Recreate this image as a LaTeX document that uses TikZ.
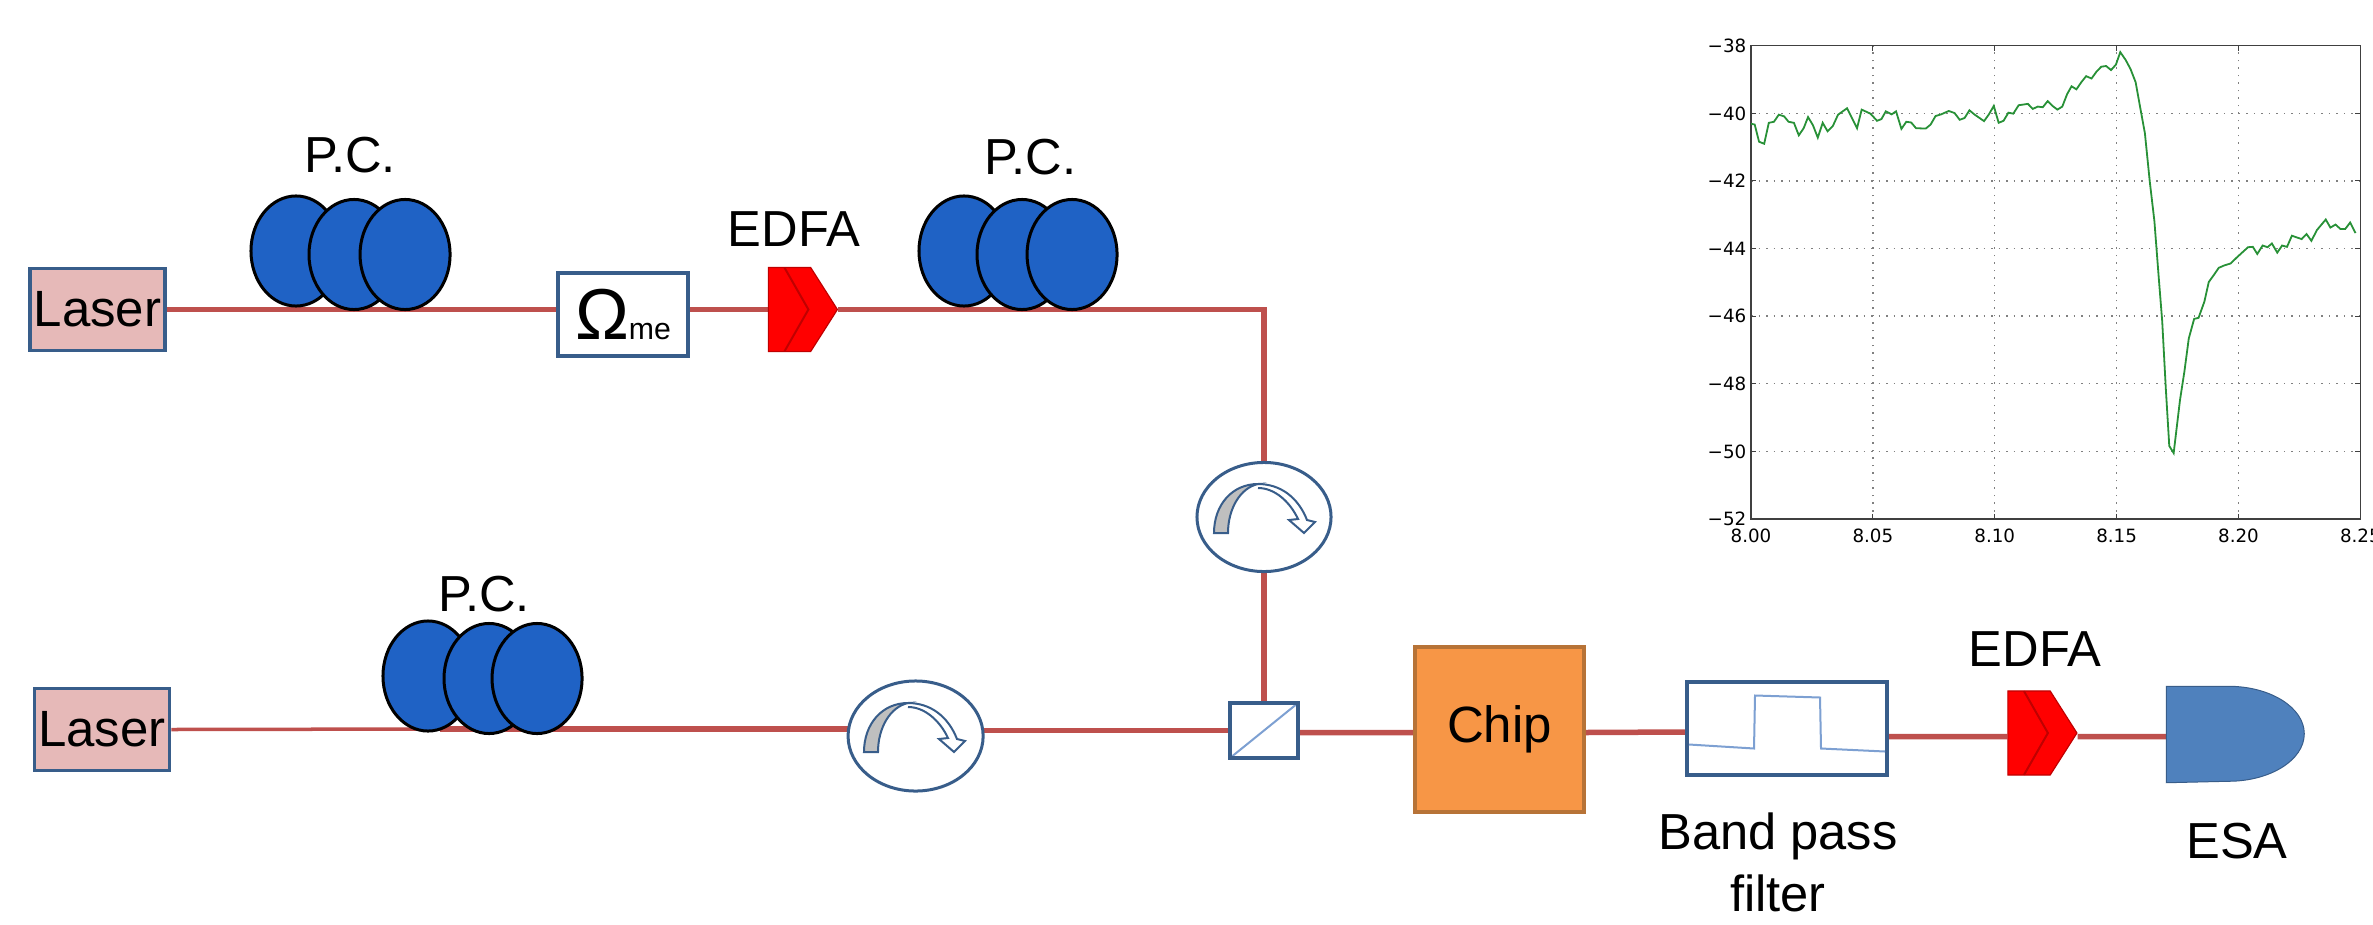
\documentclass[tikz,border=0pt]{standalone}
\usepackage{fontspec}
\usepackage{pgfplots}
\pgfplotsset{compat=1.18}
\usetikzlibrary{positioning,calc,shapes.geometric,shapes.symbols,backgrounds}
\setmainfont{Liberation Sans}
\newfontfamily\plotfont{DejaVu Sans}
\definecolor{fibercolor}{RGB}{190,80,77}
\definecolor{boxblue}{RGB}{56,93,138}
\definecolor{laserpink}{RGB}{230,185,184}
\definecolor{pcblue}{RGB}{31,98,197}
\definecolor{edfadark}{RGB}{192,0,0}
\definecolor{chiporange}{RGB}{247,150,70}
\definecolor{chipedge}{RGB}{183,115,55}
\definecolor{esablue}{RGB}{79,129,189}
\definecolor{bandblue}{RGB}{125,160,210}
\definecolor{tracegreen}{RGB}{40,145,55}
\tikzset{
    fiber/.style={draw=fibercolor,line width=0.055cm},
    thinfiber/.style={draw=fibercolor,line width=0.035cm},
    txt/.style={inner sep=0,font=\fontsize{14.4}{17.6}\selectfont},
    bluebox/.style={rectangle,draw=boxblue,line width=0.035cm,inner sep=0,fill=white},
    laser/.style={bluebox,fill=laserpink,minimum width=1.35cm,minimum height=0.82cm,font=\fontsize{14.5}{17}\selectfont},
    pc/.style={ellipse,draw=black,line width=0.03cm,fill=pcblue,minimum width=0.9cm,minimum height=1.1cm,inner sep=0},
    circulator/.style={ellipse,draw=boxblue,line width=0.03cm,fill=white,minimum width=1.34cm,minimum height=1.09cm,inner sep=0},
    edfa/.style={signal,signal to=east,signal pointer angle=115,fill=red,draw=edfadark,line width=0.012cm,inner sep=0,minimum width=0.69cm,minimum height=0.84cm,
        path picture={\draw [edfadark,line width=0.02cm] ([xshift=0.16cm]path picture bounding box.north west) -- ([xshift=0.4cm]path picture bounding box.west) -- ([xshift=0.16cm]path picture bounding box.south west);}},
    splitter/.style={bluebox,minimum width=0.68cm,minimum height=0.55cm,
        path picture={\draw [bandblue,line width=0.02cm] (path picture bounding box.south west) -- (path picture bounding box.north east);}},
    circarrow/.pic={
        \draw [boxblue,line width=0.02cm,fill=lightgray] (-44,16) .. controls (-44,-12) and (-26,-33) .. (0,-33) .. controls (-18,-29) and (-30,-8) .. (-30,16) -- cycle;
        \draw [boxblue,line width=0.02cm] (0,-33) .. controls (22,-33) and (40,-20) .. (49,3) -- (57,5) -- (46,16) -- (31,3) -- (40,2) .. controls (32,-15) and (17,-29) .. (0,-29);
    }
}
\begin{document}
\begin{tikzpicture}[x=0.01cm,y=-0.01cm]
    \useasboundingbox (0,0) rectangle (2373,924);
    % Upper arm
    \node (laserA) [laser] at (97.5,309.5) {Laser};
    \node (pcA1) [pc] at (296,251) {};
    \node (pcA2) [pc,node distance=0.58cm,right of=pcA1,yshift=-0.035cm] {};
    \node (pcA3) [pc,node distance=0.51cm,right of=pcA2] {};
    \node (pcAlabel) [txt,node distance=0.995cm,above of=pcA2,xshift=-0.04cm] {P.C.};
    \node (omega) [bluebox,minimum width=1.3cm,minimum height=0.83cm] at (623,314.5) {{\fontsize{20.5}{20}\selectfont Ω}{\fontsize{8.6}{8}\selectfont me}};
    \node (edfaA) [edfa] at (789.5,309.5) {};
    \node (edfaAlabel) [txt,node distance=0.805cm,above of=edfaA,xshift=0.045cm] {EDFA};
    \node (pcB1) [pc] at (964,251) {};
    \node (pcB2) [pc,node distance=0.58cm,right of=pcB1,yshift=-0.035cm] {};
    \node (pcB3) [pc,node distance=0.5cm,right of=pcB2] {};
    \node (pcBlabel) [txt,node distance=0.97cm,above of=pcB2,xshift=0.08cm] {P.C.};
    \node (circA) [circulator] at (1264,517) {};
    \pic at ([xshift=-0.06cm]circA.center) {circarrow};
    % Lower arm
    \node (laserB) [laser] at (102,729.5) {Laser};
    \node (pcC1) [pc] at (428,676) {};
    \node (pcC2) [pc,node distance=0.61cm,right of=pcC1,yshift=-0.025cm] {};
    \node (pcC3) [pc,node distance=0.48cm,right of=pcC2] {};
    \node (pcClabel) [txt,node distance=0.845cm,above of=pcC2,xshift=-0.05cm] {P.C.};
    \coordinate (fiberC) at (440,729);
    \node (circB) [circulator,minimum width=1.35cm,minimum height=1.1cm] at (915.6,736) {};
    \pic at ([xshift=-0.076cm]circB.center) {circarrow};
    \node (bs) [splitter] at (1264,730.5) {};
    % Output path
    \node (chip) [rectangle,draw=chipedge,line width=0.035cm,fill=chiporange,inner sep=0,minimum width=1.69cm,minimum height=1.65cm,font=\fontsize{14.5}{17}\selectfont] at (1499.5,729.5) {Chip};
    \node (filter) [bluebox,minimum width=2cm,minimum height=0.93cm] at (1787,728.5) {};
    \draw [bandblue,line width=0.02cm,shift={(filter.center)}] (-98,16) -- (-33,20) -- (-32,-33) -- (33,-31) -- (34,20) -- (98,23);
    \node (filterlabel) [txt,align=center,node distance=1.34cm,below of=filter,xshift=-0.09cm] {Band pass\\filter};
    \node (edfaB) [edfa] at (2029,733) {};
    \node (edfaBlabel) [txt,node distance=0.84cm,above of=edfaB,xshift=0.06cm] {EDFA};
    \node (esa) [minimum width=1.38cm,minimum height=0.95cm,inner sep=0] at (2236,734.5) {};
    \draw [fill=esablue,draw=boxblue,line width=0.01cm] (esa.north west) -- ++(62,0) arc[x radius=76,y radius=47.5,start angle=-90,end angle=90] -- (esa.south west) -- cycle;
    \node (esalabel) [txt,node distance=1.065cm,below of=esa,xshift=0.01cm] {ESA};
    % Fibers
    \begin{scope}[on background layer]
        \draw [fiber] (laserA.east) -- (laserA.east -| omega.west);
        \draw [fiber] (laserA.east -| omega.east) -- (edfaA.west);
        \draw [fiber] (edfaA.east) -| (circA.north);
        \draw [fiber] (circA.south) -- (bs.north);
        \draw [thinfiber] (laserB.east) -- (fiberC);
        \draw [fiber] (fiberC) -- (fiberC -| circB.center);
        \draw [fiber] (circB.center |- bs.west) -- (bs.west);
        \draw [fiber] ([yshift=-0.02cm]bs.east) -- ([yshift=-0.03cm]chip.west);
        \draw [fiber] ([yshift=-0.03cm]chip.east) -- ([yshift=-0.035cm]filter.west);
        \draw [fiber] ([yshift=-0.08cm]filter.east) -- ([yshift=-0.035cm]edfaB.west);
        \draw [fiber] ([yshift=-0.035cm]edfaB.east) -- ([yshift=-0.02cm]esa.west);
    \end{scope}
    % Trace
    \coordinate (plotorigin) at (1751,519);
    \begin{axis}[at={(plotorigin)},anchor=south west,scale only axis,width=6.09cm,height=4.73cm,
        xmin=8,xmax=8.25,ymin=-52,ymax=-38,
        xtick={8,8.05,8.1,8.15,8.2,8.25},xticklabels={8.00,8.05,8.10,8.15,8.20,8.25},
        ytick={-52,-50,-48,-46,-44,-42,-40,-38},yticklabels={−52,−50,−48,−46,−44,−42,−40,−38},
        tick label style={font=\plotfont\fontsize{5.2}{6}\selectfont,inner sep=0.02cm},
        xticklabel style={yshift=-0.07cm},yticklabel style={xshift=-0.02cm},
        tick align=inside,major tick length=0.05cm,
        axis line style={black!75,line width=0.015cm},tick style={black!75,line width=0.01cm},
        grid=major,grid style={gray,line width=0.014cm,dash pattern=on 0.015cm off 0.06cm}]
        \addplot [tracegreen,line width=0.018cm,mark=none] coordinates {
            (8.000,-40.31) (8.0015,-40.33) (8.0033,-40.84) (8.0054,-40.90) (8.0073,-40.28) (8.0094,-40.25)
            (8.0114,-40.04) (8.0136,-40.09) (8.0154,-40.25) (8.0176,-40.28) (8.0196,-40.65) (8.0216,-40.44)
            (8.0234,-40.11) (8.0254,-40.35) (8.0274,-40.72) (8.0294,-40.28) (8.0314,-40.53) (8.0336,-40.37)
            (8.0357,-40.04) (8.0394,-39.85) (8.0435,-40.44) (8.0454,-39.89) (8.0490,-40.01) (8.0517,-40.22)
            (8.0535,-40.17) (8.0553,-39.94) (8.0577,-40.03) (8.0595,-39.94) (8.0617,-40.46) (8.0637,-40.25)
            (8.0657,-40.27) (8.0677,-40.44) (8.0717,-40.45) (8.0737,-40.33) (8.0757,-40.08) (8.0780,-40.03)
            (8.0811,-39.93) (8.0835,-39.99) (8.0856,-40.19) (8.0876,-40.14) (8.0896,-39.91) (8.0916,-40.03)
            (8.0956,-40.23) (8.0976,-40.03) (8.0996,-39.78) (8.1016,-40.28) (8.1036,-40.22) (8.1056,-39.98)
            (8.1076,-40.01) (8.1098,-39.76) (8.1136,-39.72) (8.1156,-39.87) (8.1176,-39.80) (8.1197,-39.82)
            (8.1217,-39.64) (8.1237,-39.78) (8.1257,-39.89) (8.1277,-39.80) (8.1297,-39.43) (8.1315,-39.20)
            (8.1335,-39.29) (8.1355,-39.08) (8.1375,-38.90) (8.1397,-38.97) (8.1417,-38.77) (8.1437,-38.62)
            (8.1457,-38.60) (8.1477,-38.72) (8.1497,-38.56) (8.1515,-38.19) (8.1537,-38.42) (8.1557,-38.69)
            (8.1578,-39.08) (8.1596,-39.80) (8.1616,-40.59) (8.1636,-42.02) (8.1655,-43.19) (8.1673,-44.88)
            (8.1687,-46.15) (8.1702,-48.17) (8.1716,-49.84) (8.1734,-50.05) (8.1760,-48.48) (8.1778,-47.64)
            (8.1796,-46.66) (8.1818,-46.08) (8.1836,-46.05) (8.1860,-45.57) (8.1878,-44.99) (8.1899,-44.78)
            (8.1919,-44.57) (8.1941,-44.50) (8.1968,-44.44) (8.1992,-44.27) (8.2039,-43.96) (8.2059,-43.95)
            (8.2077,-44.16) (8.2099,-43.91) (8.2119,-43.96) (8.2137,-43.85) (8.2159,-44.12) (8.2179,-43.91)
            (8.2199,-43.95) (8.2219,-43.62) (8.2259,-43.72) (8.2279,-43.57) (8.2299,-43.77) (8.2322,-43.45)
            (8.2358,-43.14) (8.2377,-43.38) (8.2398,-43.29) (8.2418,-43.42) (8.2438,-43.42) (8.2458,-43.23)
            (8.2480,-43.54)};
    \end{axis}
\end{tikzpicture}
\end{document}
